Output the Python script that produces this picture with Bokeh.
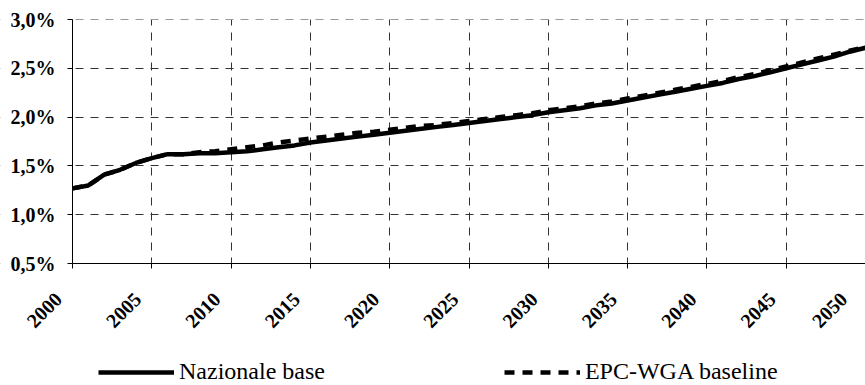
import numpy as np
from bokeh.plotting import figure
from bokeh.models import (FixedTicker, CustomJSTickFormatter, Legend, LegendItem,
                          ColumnDataSource, Range1d, BoxAnnotation)
from bokeh.embed import file_html
from bokeh.resources import INLINE

years = list(range(2000, 2051))

nazionale_base = [
    1.27, 1.30, 1.41, 1.46, 1.53, 1.58, 1.62, 1.62, 1.63, 1.63,
    1.64, 1.65, 1.67, 1.69, 1.71, 1.74, 1.76, 1.78, 1.80, 1.82,
    1.84, 1.86, 1.88, 1.90, 1.92, 1.94, 1.96, 1.98, 2.00, 2.02,
    2.05, 2.07, 2.09, 2.12, 2.14, 2.17, 2.20, 2.23, 2.26, 2.29,
    2.32, 2.35, 2.39, 2.42, 2.46, 2.50, 2.54, 2.58, 2.62, 2.67,
    2.71,
]

epc_wga_baseline = [
    1.27, 1.30, 1.41, 1.46, 1.53, 1.58, 1.62, 1.62, 1.64, 1.65,
    1.67, 1.69, 1.71, 1.74, 1.76, 1.78, 1.80, 1.82, 1.84, 1.85,
    1.87, 1.89, 1.91, 1.92, 1.94, 1.96, 1.98, 2.00, 2.02, 2.04,
    2.07, 2.09, 2.11, 2.14, 2.16, 2.19, 2.22, 2.25, 2.28, 2.31,
    2.34, 2.37, 2.41, 2.44, 2.48, 2.52, 2.56, 2.60, 2.64, 2.68,
    2.72,
]

x_ticks = [2000, 2005, 2010, 2015, 2020, 2025, 2030, 2035, 2040, 2045, 2050]
y_ticks = [0.5, 1.0, 1.5, 2.0, 2.5, 3.0]

series_names = ["Nazionale base", "EPC-WGA baseline"]

src = ColumnDataSource(dict(year=years, naz=nazionale_base, epc=epc_wga_baseline))

# layout (pixels): plot area from x=72 to 865, y=19 to 263 of an 865x385 page
W, H = 865, 385
PL, PT, PB = 72, 19, 263
x0, x1 = x_ticks[0], x_ticks[-1]
y0, y1 = y_ticks[0], y_ticks[-1]
kx = (W - PL) / (x1 - x0)
ky = (PB - PT) / (y1 - y0)

p = figure(frame_width=W, frame_height=H, output_backend="svg",
           toolbar_location=None,
           x_range=Range1d(x0 - PL / kx, x1),
           y_range=Range1d(y0 - (H - PB) / ky, y1 + PT / ky),
           min_border_left=0, min_border_right=0, min_border_top=0,
           min_border_bottom=0)
p.outline_line_color = None
p.background_fill_color = "white"
p.border_fill_color = "white"

# grid
for g in (p.xgrid[0], p.ygrid[0]):
    g.grid_line_color = "#333333"
    g.grid_line_width = 1
    g.grid_line_dash = "8 7"

# white out the grid outside the plot area
for box in (BoxAnnotation(top=y0), BoxAnnotation(bottom=y1), BoxAnnotation(right=x0)):
    box.fill_color = "white"
    box.fill_alpha = 1.0
    box.line_color = None
    box.level = "underlay"
    p.add_layout(box)

r1 = p.line("year", "naz", source=src, line_color="black", line_width=4.5)
r2 = p.line("year", "epc", source=src, line_color="black", line_width=4.5,
            line_dash="10 8")

# axes
for ax in (p.xaxis[0], p.yaxis[0]):
    ax.axis_line_color = "black"
    ax.axis_line_width = 1
    ax.major_tick_line_color = "black"
    ax.major_tick_out = 5
    ax.major_tick_in = 0
    ax.minor_tick_line_color = None
    ax.major_label_text_font = "Liberation Serif"
    ax.major_label_text_font_style = "bold"
    ax.major_label_text_font_size = "20px"
    ax.major_label_text_color = "black"

p.xaxis.fixed_location = y0
p.yaxis.fixed_location = x0
p.xaxis.bounds = (x0, x1)
p.yaxis.bounds = (y0, y1)
p.xaxis.ticker = FixedTicker(ticks=x_ticks)
p.yaxis.ticker = FixedTicker(ticks=y_ticks)
p.yaxis.formatter = CustomJSTickFormatter(
    code="return tick.toFixed(1).replace('.', ',') + '%';")
p.xaxis.formatter = CustomJSTickFormatter(
    code="return tick.toFixed(0) + '\\u00a0\\u00a0\\u00a0\\u00a0';")
p.yaxis.major_label_standoff = 12
p.xaxis.major_label_orientation = np.pi / 4
p.xaxis.major_label_standoff = 13

legend = Legend(items=[LegendItem(label=series_names[0], renderers=[r1]),
                       LegendItem(label=series_names[1], renderers=[r2])],
                orientation="horizontal", location=(98, 0),
                label_text_font="Liberation Serif", label_text_font_size="24px",
                label_text_color="black", glyph_width=76, glyph_height=24,
                label_standoff=5, spacing=179, padding=2, margin=0,
                border_line_color=None, background_fill_alpha=0)
p.add_layout(legend, "center")

open("out.html", "w").write(file_html(p, INLINE))
